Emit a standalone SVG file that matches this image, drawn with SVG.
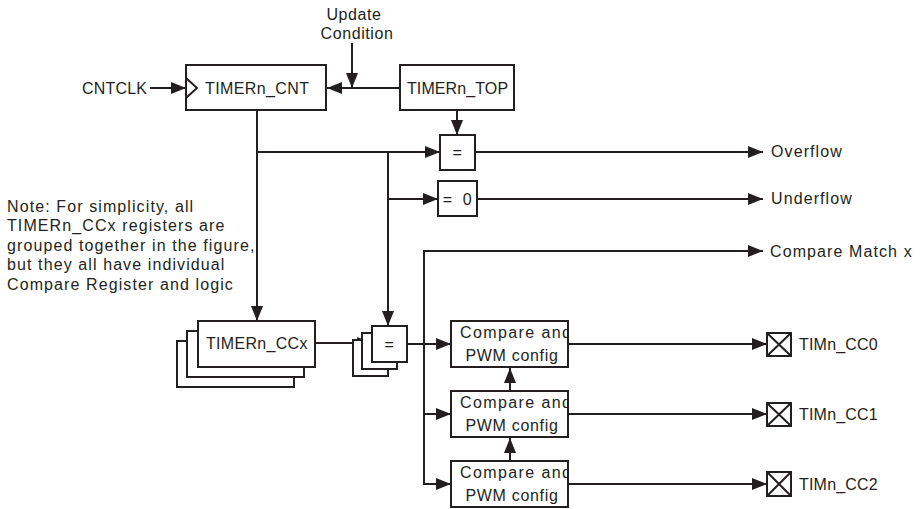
<svg xmlns="http://www.w3.org/2000/svg" width="921" height="509" viewBox="0 0 921 509">
<style>
text{font-family:"Liberation Sans",Arial,sans-serif;font-size:16px;fill:#231f20;letter-spacing:0.6px}
.box{fill:#fff;stroke:#231f20;stroke-width:2}
.ln{fill:none;stroke:#231f20;stroke-width:2}
.arr{marker-end:url(#ah)}
.wide{letter-spacing:1.1px}
</style>
<defs>
<marker id="ah" markerUnits="userSpaceOnUse" markerWidth="16" markerHeight="12" refX="15" refY="6" orient="auto">
<path d="M0,0 L15,6 L0,12 z" fill="#231f20"/>
</marker>
<clipPath id="c1"><rect x="452" y="322" width="115" height="44"/></clipPath>
<clipPath id="c2"><rect x="452" y="392" width="115" height="44"/></clipPath>
<clipPath id="c3"><rect x="452" y="462" width="115" height="44"/></clipPath>
</defs>
<rect width="921" height="509" fill="#fff"/>

<g id="connectors">
<line class="ln arr" x1="150" y1="88" x2="186" y2="88"/>
<line class="ln arr" x1="400" y1="88" x2="327" y2="88"/>
<line class="ln arr" x1="352" y1="43" x2="352" y2="88"/>
<line class="ln arr" x1="457" y1="110" x2="457" y2="135"/>
<line class="ln" x1="257" y1="110" x2="257" y2="152"/>
<line class="ln arr" x1="257" y1="152" x2="257" y2="321"/>
<line class="ln arr" x1="256" y1="152" x2="440" y2="152"/>
<line class="ln arr" x1="388" y1="152" x2="388" y2="326"/>
<line class="ln arr" x1="388" y1="199" x2="438" y2="199"/>
<line class="ln arr" x1="475" y1="152" x2="763" y2="152"/>
<line class="ln arr" x1="477" y1="199" x2="763" y2="199"/>
<line class="ln arr" x1="423" y1="251" x2="763" y2="251"/>
<line class="ln" x1="424" y1="250" x2="424" y2="485"/>
<line class="ln arr" x1="315" y1="343" x2="372" y2="343"/>
<line class="ln arr" x1="407" y1="344" x2="451" y2="344"/>
<line class="ln arr" x1="423" y1="414" x2="451" y2="414"/>
<line class="ln arr" x1="423" y1="484" x2="451" y2="484"/>
<line class="ln arr" x1="510" y1="391" x2="510" y2="368"/>
<line class="ln arr" x1="510" y1="461" x2="510" y2="438"/>
<line class="ln arr" x1="568" y1="344" x2="767" y2="344"/>
<line class="ln arr" x1="568" y1="414" x2="767" y2="414"/>
<line class="ln arr" x1="568" y1="484" x2="767" y2="484"/>
</g>

<g id="update-label">
<text x="354" y="20" text-anchor="middle">Update</text>
<text x="357" y="39" text-anchor="middle">Condition</text>
</g>
<g id="cntclk"><text x="82" y="94" style="letter-spacing:0.2px">CNTCLK</text></g>

<g id="timer-cnt">
<rect class="box" x="186" y="65" width="140" height="45"/>
<polyline class="ln" points="186,78 197,88 186,98"/>
<text x="205" y="94" style="letter-spacing:0.4px">TIMERn_CNT</text>
</g>
<g id="timer-top">
<rect class="box" x="400" y="65" width="114" height="45"/>
<text x="407" y="94" style="letter-spacing:0.1px">TIMERn_TOP</text>
</g>

<g id="eq-top">
<rect class="box" x="440" y="135" width="35" height="35"/>
<text x="457.5" y="158" text-anchor="middle">=</text>
</g>
<g id="eq-zero">
<rect class="box" x="438" y="181" width="39" height="35"/>
<text x="457.5" y="205" text-anchor="middle" xml:space="preserve">=  0</text>
</g>

<g id="overflow"><text class="wide" x="771" y="157">Overflow</text></g>
<g id="underflow"><text class="wide" x="771" y="204">Underflow</text></g>
<g id="compare-match"><text class="wide" x="770" y="257">Compare Match x</text></g>

<g id="note">
<text class="wide" x="7" y="212">Note: For simplicity, all</text>
<text class="wide" x="7" y="231">TIMERn_CCx registers are</text>
<text class="wide" x="7" y="251">grouped together in the figure,</text>
<text class="wide" x="7" y="270">but they all have individual</text>
<text class="wide" x="7" y="290">Compare Register and logic</text>
</g>

<g id="timer-ccx">
<rect class="box" x="177" y="341" width="117" height="46"/>
<rect class="box" x="187" y="331" width="117" height="46"/>
<rect class="box" x="198" y="321" width="117" height="46"/>
<text x="206" y="349" style="letter-spacing:0.3px">TIMERn_CCx</text>
</g>

<g id="eq-stack">
<rect class="box" x="353" y="340" width="35" height="36"/>
<rect class="box" x="362" y="333" width="35" height="36"/>
<rect class="box" x="372" y="326" width="35" height="36"/>
<text x="389.5" y="350" text-anchor="middle">=</text>
</g>

<g id="pwm0">
<rect class="box" x="451" y="321" width="117" height="46"/>
<g clip-path="url(#c1)"><text x="460" y="338" style="letter-spacing:1.4px">Compare and</text></g>
<text x="512" y="361" text-anchor="middle" style="letter-spacing:0.7px">PWM config</text>
</g>
<g id="pwm1">
<rect class="box" x="451" y="391" width="117" height="46"/>
<g clip-path="url(#c2)"><text x="460" y="408" style="letter-spacing:1.4px">Compare and</text></g>
<text x="512" y="431" text-anchor="middle" style="letter-spacing:0.7px">PWM config</text>
</g>
<g id="pwm2">
<rect class="box" x="451" y="461" width="117" height="46"/>
<g clip-path="url(#c3)"><text x="460" y="478" style="letter-spacing:1.4px">Compare and</text></g>
<text x="512" y="501" text-anchor="middle" style="letter-spacing:0.7px">PWM config</text>
</g>

<g id="pin0">
<rect class="box" x="767" y="333" width="24" height="23"/>
<path class="ln" d="M767,333 L791,356 M791,333 L767,356"/>
<text x="799" y="350" style="letter-spacing:0.2px">TIMn_CC0</text>
</g>
<g id="pin1">
<rect class="box" x="767" y="403" width="24" height="23"/>
<path class="ln" d="M767,403 L791,426 M791,403 L767,426"/>
<text x="799" y="420" style="letter-spacing:0.2px">TIMn_CC1</text>
</g>
<g id="pin2">
<rect class="box" x="767" y="472" width="24" height="24"/>
<path class="ln" d="M767,472 L791,496 M791,472 L767,496"/>
<text x="799" y="490" style="letter-spacing:0.2px">TIMn_CC2</text>
</g>
</svg>
